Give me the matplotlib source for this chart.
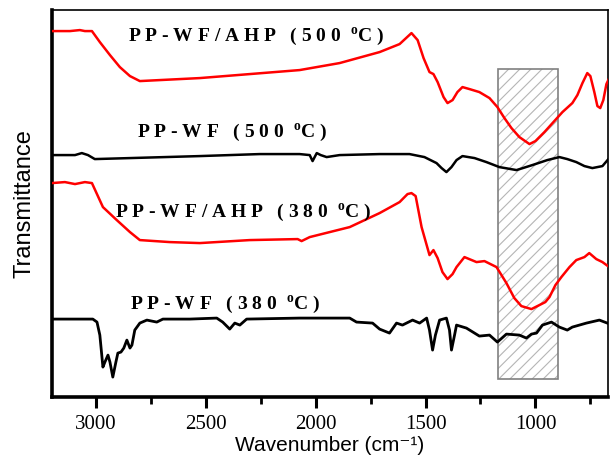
import matplotlib
matplotlib.use("Agg")
import matplotlib.pyplot as plt
from matplotlib.patches import Rectangle
from matplotlib.ticker import MultipleLocator

# espectros FTIR (numero de onda cm-1, transmitancia a.u. con offset)
wn_ahp500 = [3200, 3118, 3073, 3050, 3018, 2982, 2936, 2891, 2845, 2800, 2709, 2527, 2300, 2073,
             1891, 1709, 1618, 1564, 1536, 1509, 1482, 1464, 1445, 1418, 1400, 1377, 1355, 1332,
             1300, 1255, 1209, 1173, 1141, 1109, 1073, 1027, 1000, 959, 914, 877, 832, 809, 786,
             764, 750, 732, 718, 705, 691, 677, 664]
t_ahp500 = [366, 366, 367, 366, 366, 355, 342, 330, 321, 316, 317, 319, 323, 327,
            334, 345, 353, 364, 357, 339, 325, 323, 315, 300, 294, 297, 305, 310,
            308, 305, 299, 290, 279, 269, 260, 253, 256, 265, 276, 285, 294, 302, 314,
            324, 321, 305, 291, 289, 297, 313, 319]

wn_wf500 = [3200, 3095, 3064, 3036, 3005, 2845, 2527, 2255, 2073, 2027, 2014, 1995, 1977, 1950,
            1891, 1709, 1573, 1505, 1450, 1427, 1405, 1382, 1359, 1332, 1277, 1223, 1164, 1086,
            1014, 946, 891, 855, 814, 777, 741, 695, 664]
t_wf500 = [242, 242, 244, 242, 238, 239, 241, 243, 243, 242, 236, 244, 242, 240,
           242, 243, 243, 240, 234, 229, 225, 230, 237, 241, 239, 235, 230, 227,
           232, 237, 240, 238, 235, 231, 229, 231, 239]

wn_ahp380 = [3200, 3141, 3095, 3050, 3018, 2968, 2905, 2845, 2800, 2664, 2527, 2300, 2082, 2064,
             2027, 1936, 1845, 1709, 1618, 1582, 1564, 1545, 1518, 1482, 1464, 1445, 1423, 1400,
             1377, 1359, 1323, 1268, 1232, 1177, 1132, 1096, 1064, 1018, 982, 955, 936, 909,
             882, 845, 814, 777, 755, 723, 695, 664]
t_ahp380 = [214, 215, 213, 215, 214, 190, 177, 165, 157, 155, 154, 157, 158, 156,
            160, 165, 170, 184, 195, 203, 204, 201, 170, 142, 147, 139, 125, 118,
            123, 130, 140, 135, 136, 130, 114, 99, 91, 88, 92, 95, 100, 112,
            120, 130, 137, 140, 144, 138, 135, 130]

wn_wf380 = [3200, 3014, 2995, 2982, 2968, 2959, 2945, 2936, 2923, 2909, 2900, 2886, 2873, 2859,
            2845, 2836, 2823, 2800, 2768, 2723, 2695, 2573, 2450, 2423, 2391, 2368, 2345, 2314,
            2073, 1845, 1814, 1741, 1709, 1664, 1632, 1605, 1559, 1527, 1495, 1482, 1468, 1455,
            1436, 1405, 1391, 1382, 1368, 1359, 1314, 1255, 1209, 1173, 1132, 1073, 1041, 1018,
            995, 968, 927, 891, 855, 832, 768, 709, 673]
t_wf380 = [78, 78, 75, 62, 30, 35, 42, 35, 20, 35, 44, 45, 49, 57,
           49, 52, 67, 74, 77, 75, 78, 78, 79, 75, 68, 74, 72, 78,
           79, 79, 75, 74, 68, 64, 74, 72, 77, 74, 79, 67, 47, 62,
           77, 79, 67, 47, 62, 72, 69, 61, 62, 55, 63, 62, 59, 63,
           64, 72, 75, 70, 67, 70, 74, 77, 74]

etiquetas = ["PP-WF/AHP (500 ", "PP-WF (500 ", "PP-WF/AHP (380 ", "PP-WF (380 "]
pos_etiquetas = [(2855, 356), (2814, 260), (2914, 180), (2845, 88)]

banda = (1172, 896)   # region rayada
xticks = [3000, 2500, 2000, 1500, 1000]

plt.rcParams['mathtext.fontset'] = 'custom'
plt.rcParams['mathtext.rm'] = 'Liberation Serif:bold'
plt.rcParams['mathtext.bf'] = 'Liberation Serif:bold'
plt.rcParams['hatch.linewidth'] = 0.8
plt.rcParams['hatch.color'] = '#b5b5b5'

fig = plt.figure(figsize=(6.11, 4.58), dpi=100)
ax = fig.add_axes([0.085, 0.133, 0.91, 0.845])

# rectangulo rayado
ax.add_patch(Rectangle((banda[1], 18), banda[0] - banda[1], 310, facecolor='none',
                       edgecolor='#b5b5b5', hatch='///', lw=0, zorder=1))
ax.add_patch(Rectangle((banda[1], 18), banda[0] - banda[1], 310, facecolor='none',
                       edgecolor='#808080', lw=1.2, zorder=1))

ax.plot(wn_ahp500, t_ahp500, color='#ff0000', lw=1.8, zorder=3, solid_joinstyle='round')
ax.plot(wn_wf500, t_wf500, color='black', lw=1.8, zorder=3, solid_joinstyle='round')
ax.plot(wn_ahp380, t_ahp380, color='#ff0000', lw=1.8, zorder=3, solid_joinstyle='round')
ax.plot(wn_wf380, t_wf380, color='black', lw=2.0, zorder=3, solid_joinstyle='round')

for txt, (x, y) in zip(etiquetas, pos_etiquetas):
    s = " ".join(txt.strip()) + "  " + r"$^{\mathbf{o}}$C )"
    ax.text(x, y, s, fontsize=14, fontweight='bold', family='Liberation Serif',
            ha='left', va='baseline', zorder=4)

ax.set_xlim(3200, 670)
ax.set_ylim(0, 387)
ax.set_xticks(xticks)
ax.xaxis.set_minor_locator(MultipleLocator(250))
ax.set_yticks([])
for lab in ax.get_xticklabels():
    lab.set_family('Liberation Serif')
    lab.set_fontsize(15)
ax.tick_params(axis='x', which='major', direction='out', length=8, width=2.2, pad=5)
ax.tick_params(axis='x', which='minor', direction='out', length=5, width=2.0)

ax.spines['left'].set_linewidth(2.6)
ax.spines['bottom'].set_linewidth(2.6)
ax.spines['top'].set_linewidth(1.2)
ax.spines['right'].set_linewidth(1.2)

ax.set_xlabel("Wavenumber (cm⁻¹)", fontsize=15, family=['Liberation Sans', 'DejaVu Sans'], labelpad=1)
ax.set_ylabel("Transmittance", fontsize=17, family='Liberation Sans', labelpad=12)

fig.savefig("out.png", dpi=100)
